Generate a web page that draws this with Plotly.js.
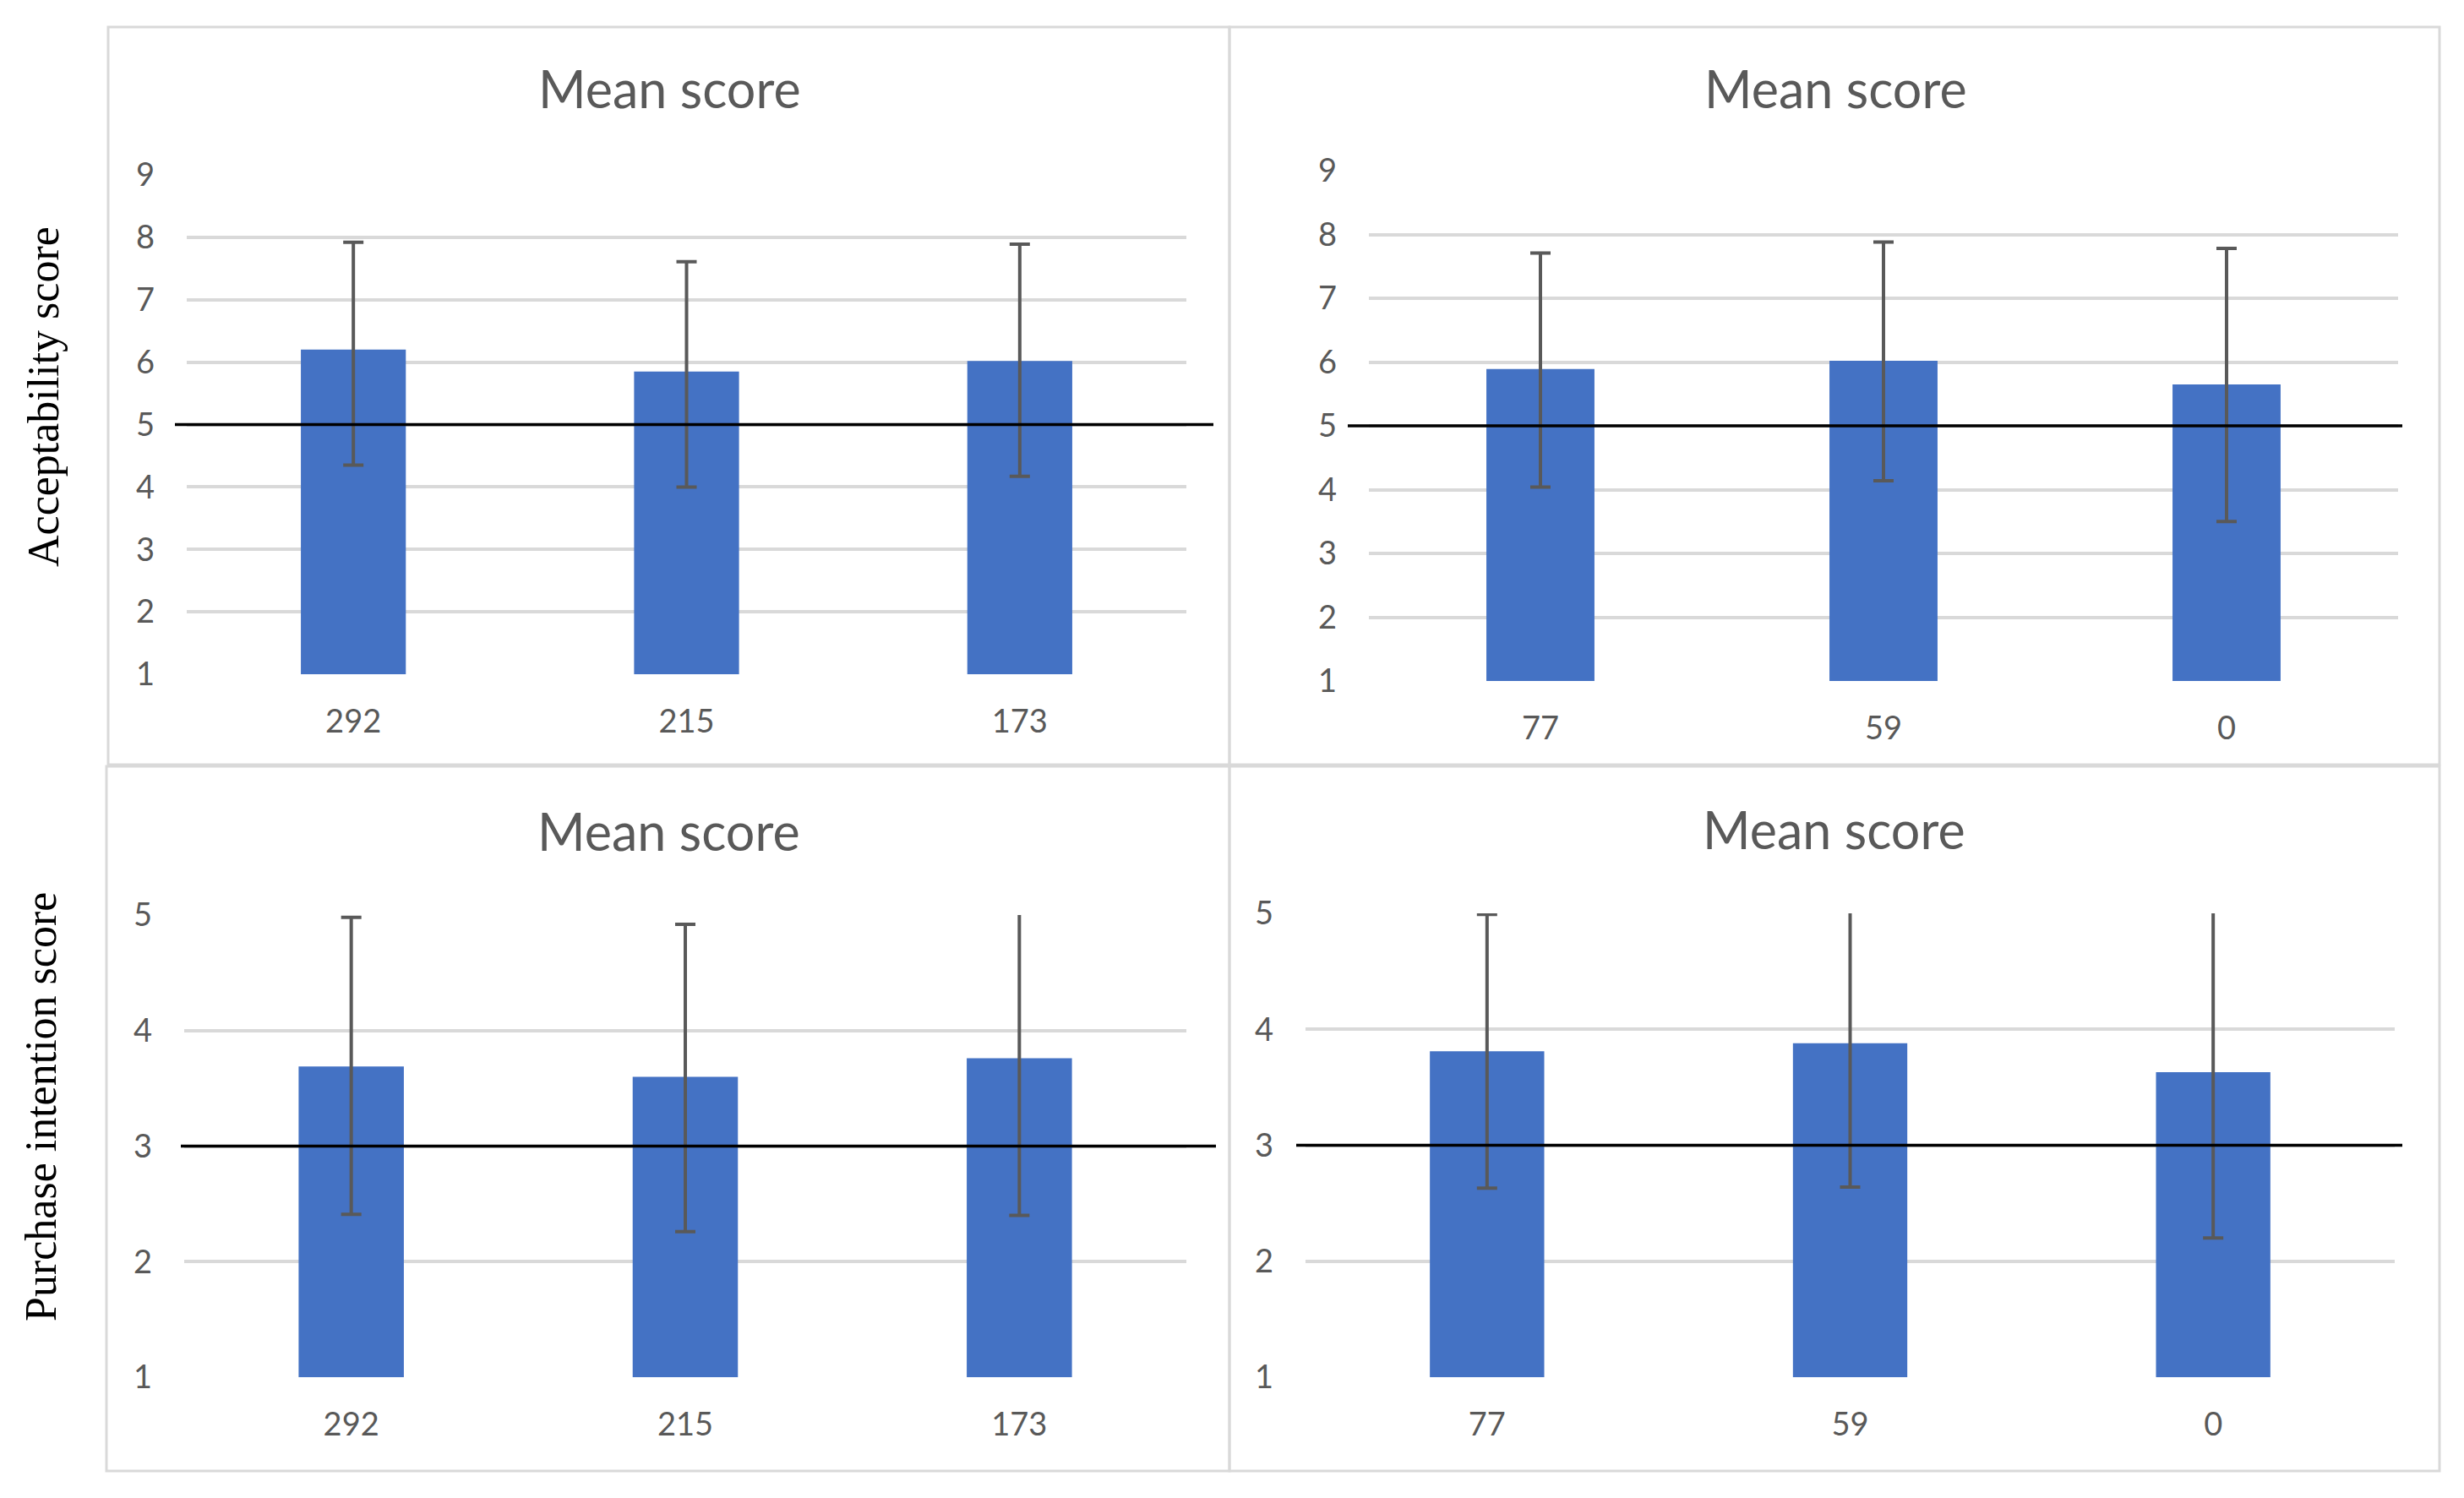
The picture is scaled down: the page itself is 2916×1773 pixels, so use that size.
<!DOCTYPE html>
<html><head><meta charset="utf-8">
<script src="https://cdn.plot.ly/plotly-3.0.1.min.js"></script>
<style>html,body{margin:0;padding:0;background:#fff;} #chart{width:2916px;height:1773px;}</style>
</head><body><div id="chart"></div>
<script>
// ---- data ----
const groupsLeft = ["292", "215", "173"];
const groupsRight = ["77", "59", "0"];
const accLeftMean = [6.20, 5.85, 6.02];
const accLeftErrPlus = [1.72, 1.76, 1.87];
const accLeftErrMinus = [1.85, 1.85, 1.85];
const accRightMean = [5.89, 6.02, 5.65];
const accRightErrPlus = [1.82, 1.86, 2.13];
const accRightErrMinus = [1.85, 1.88, 2.15];
const piLeftMean = [3.69, 3.60, 3.76];
const piLeftErrPlus = [1.29, 1.32, 1.36];
const piLeftErrMinus = [1.28, 1.34, 1.36];
const piRightMean = [3.81, 3.88, 3.63];
const piRightErrPlus = [1.18, 1.24, 1.43];
const piRightErrMinus = [1.18, 1.24, 1.43];
const accTicks = [1, 2, 3, 4, 5, 6, 7, 8, 9];
const piTicks = [1, 2, 3, 4, 5];
const accReference = 5;
const piReference = 3;
const panelTitle = "Mean score";
const rowTitles = ["Acceptability score", "Purchase intention score"];

// ---- layout helpers ----
const W = 2916, H = 1773;
const px = x => x / W;
const py = y => 1 - y / H;
const BAR = '#4472C4', ERR = '#595959', GRID = '#d9d9d9', TXT = '#595959';
const tickFont = {family: 'Lato, sans-serif', size: 38, color: TXT};

function barTrace(x, y, plus, minus, xa, ya) {
  return {
    type: 'bar', x: x, y: y, xaxis: xa, yaxis: ya,
    marker: {color: BAR},
    error_y: {type: 'data', symmetric: false, array: plus, arrayminus: minus,
              color: ERR, thickness: 4, width: 12},
    hoverinfo: 'skip', showlegend: false
  };
}

const data = [
  barTrace(groupsLeft, accLeftMean, accLeftErrPlus, accLeftErrMinus, 'x', 'y'),
  barTrace(groupsRight, accRightMean, accRightErrPlus, accRightErrMinus, 'x2', 'y2'),
  barTrace(groupsLeft, piLeftMean, piLeftErrPlus, piLeftErrMinus, 'x3', 'y3'),
  barTrace(groupsRight, piRightMean, piRightErrPlus, piRightErrMinus, 'x4', 'y4')
];

function xAxis(l, r, anchor) {
  return {domain: [px(l), px(r)], anchor: anchor, type: 'category',
          showgrid: false, zeroline: false, showline: false, ticks: '',
          tickfont: tickFont, ticklabelstandoff: 30, fixedrange: true};
}
function yAxis(bottom, top, anchor, range, ticks) {
  return {domain: [py(bottom), py(top)], anchor: anchor, range: range,
          tickmode: 'array', tickvals: ticks, showgrid: true, gridcolor: GRID,
          gridwidth: 4, zeroline: false, showline: false, ticks: '',
          tickfont: tickFont, ticklabelstandoff: 37, fixedrange: true};
}

function box(x0, y0, x1, y1) {
  return {type: 'rect', xref: 'paper', yref: 'paper', x0: px(x0), x1: px(x1),
          y0: py(y1), y1: py(y0), line: {color: GRID, width: 3}, layer: 'below'};
}
function refLine(yref, val, x0, x1) {
  return {type: 'line', xref: 'paper', yref: yref, x0: px(x0), x1: px(x1),
          y0: val, y1: val, line: {color: '#000000', width: 3.5}, layer: 'above'};
}
function title(x, y) {
  return {text: panelTitle, xref: 'paper', yref: 'paper', x: px(x), y: py(y),
          xanchor: 'center', yanchor: 'middle', showarrow: false,
          font: {family: 'Lato, sans-serif', size: 61, color: TXT}};
}
function rowTitle(text, x, y) {
  return {text: text, xref: 'paper', yref: 'paper', x: px(x), y: py(y),
          xanchor: 'center', yanchor: 'middle', showarrow: false, textangle: -90,
          font: {family: 'Liberation Serif, Times New Roman, serif', size: 52, color: '#000000'}};
}

const layout = {
  width: W, height: H,
  margin: {l: 0, r: 0, t: 0, b: 0, pad: 0},
  paper_bgcolor: '#ffffff', plot_bgcolor: 'rgba(0,0,0,0)',
  bargap: 0.685,
  showlegend: false,
  xaxis: xAxis(221, 1404, 'y'),
  yaxis: yAxis(798, 207, 'x', [1, 9], accTicks),
  xaxis2: xAxis(1620, 2838, 'y2'),
  yaxis2: yAxis(806, 202, 'x2', [1, 9], accTicks),
  xaxis3: xAxis(218, 1404, 'y3'),
  yaxis3: yAxis(1630, 1083, 'x3', [1, 5], piTicks),
  xaxis4: xAxis(1545, 2834, 'y4'),
  yaxis4: yAxis(1630, 1081, 'x4', [1, 5], piTicks),
  shapes: [
    box(128, 32, 1455, 905),
    box(1455, 32, 2887, 905),
    box(126, 907, 1455, 1741),
    box(1455, 907, 2887, 1741),
    refLine('y', accReference, 207, 1436),
    refLine('y2', accReference, 1595, 2843),
    refLine('y3', piReference, 214, 1439),
    refLine('y4', piReference, 1534, 2843)
  ],
  annotations: [
    title(793, 105), title(2172, 105), title(791, 983), title(2170, 982),
    rowTitle(rowTitles[0], 51, 470), rowTitle(rowTitles[1], 48, 1310)
  ]
};

Plotly.newPlot('chart', data, layout, {displayModeBar: false, staticPlot: true});
</script>
</body></html>
